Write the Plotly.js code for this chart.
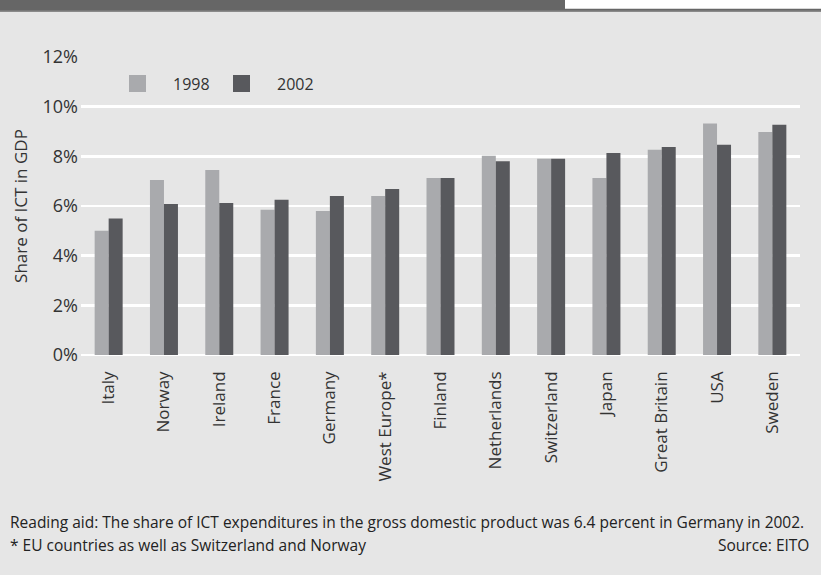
<!DOCTYPE html>
<html>
<head>
<meta charset="utf-8">
<script src="https://cdn.plot.ly/plotly-3.0.1.min.js"></script>
<style>html,body{margin:0;padding:0;background:#e6e6e6;}</style>
</head>
<body>
<div id="chart" style="width:821px;height:575px;"></div>
<script>
const countries = ["Italy","Norway","Ireland","France","Germany","West Europe*","Finland","Netherlands","Switzerland","Japan","Great Britain","USA","Sweden"];
const share1998 = [5.0, 7.05, 7.45, 5.85, 5.8, 6.4, 7.13, 8.02, 7.9, 7.13, 8.27, 9.32, 8.98];
const share2002 = [5.5, 6.08, 6.12, 6.25, 6.4, 6.68, 7.13, 7.8, 7.9, 8.13, 8.38, 8.47, 9.27];
const seriesNames = ["1998", "2002"];
const yTicks = [0, 2, 4, 6, 8, 10, 12];
const yTickText = ["0%", "2%", "4%", "6%", "8%", "10%", "12%"];

const FONT = "Open Sans, Noto Sans, sans-serif";
const C98 = "#a9aaad", C02 = "#58595d";

// pixel helpers for plot area (l=81, r=800, t=57, b=355)
const PL = 81, PR = 800, PT = 57, PB = 355;
const px = x => (x - PL) / (PR - PL);
const py = y => (PB - y) / (PB - PT);

const data = [
  {type: "bar", name: seriesNames[0], x: countries, y: share1998, marker: {color: C98}, showlegend: false, hoverinfo: "x+y"},
  {type: "bar", name: seriesNames[1], x: countries, y: share2002, marker: {color: C02}, showlegend: false, hoverinfo: "x+y"}
];

const layout = {
  width: 821, height: 575,
  paper_bgcolor: "#e6e6e6", plot_bgcolor: "#e6e6e6",
  margin: {l: PL, r: 821 - PR, t: PT, b: 575 - PB, pad: 0},
  barmode: "group", bargap: 0.494, bargroupgap: 0,
  font: {family: FONT, size: 17, color: "#333"},
  xaxis: {
    type: "category", tickangle: -90, showgrid: false, zeroline: false, showline: false,
    ticks: "", ticklabelstandoff: 12, tickfont: {family: FONT, size: 17, color: "#333"}
  },
  yaxis: {
    range: [0, 12], tickvals: yTicks, ticktext: yTickText,
    showgrid: true, gridcolor: "#ffffff", gridwidth: 2.5,
    zeroline: true, zerolinecolor: "#ffffff", zerolinewidth: 2.5,
    showline: false, ticks: "", ticklabelstandoff: 2,
    tickfont: {family: FONT, size: 18, color: "#333"},
    title: {text: "Share of ICT in GDP", font: {family: FONT, size: 17, color: "#333"}, standoff: 10}
  },
  shapes: [
    // top band
    {type: "rect", xref: "paper", yref: "paper", x0: px(0), x1: px(821), y0: py(0), y1: py(11), fillcolor: "#666666", line: {width: 0}, layer: "above"},
    {type: "rect", xref: "paper", yref: "paper", x0: px(0), x1: px(821), y0: py(10.5), y1: py(12), fillcolor: "#8a8a8a", line: {width: 0}, layer: "above"},
    {type: "rect", xref: "paper", yref: "paper", x0: px(565), x1: px(821), y0: py(0), y1: py(8.7), fillcolor: "#ffffff", line: {width: 0}, layer: "above"},
    // legend swatches
    {type: "rect", xref: "paper", yref: "paper", x0: px(129), x1: px(146), y0: py(75), y1: py(92), fillcolor: C98, line: {width: 0}},
    {type: "rect", xref: "paper", yref: "paper", x0: px(233), x1: px(250), y0: py(75), y1: py(92), fillcolor: C02, line: {width: 0}}
  ],
  annotations: [
    {xref: "paper", yref: "paper", x: px(171), y: py(83.5), xanchor: "left", yanchor: "middle", text: seriesNames[0], showarrow: false, font: {family: FONT, size: 16, color: "#333"}},
    {xref: "paper", yref: "paper", x: px(275), y: py(83.5), xanchor: "left", yanchor: "middle", text: seriesNames[1], showarrow: false, font: {family: FONT, size: 16, color: "#333"}},
    {xref: "paper", yref: "paper", x: px(8), y: py(522), xanchor: "left", yanchor: "middle", text: "Reading aid: The share of ICT expenditures in the gross domestic product was 6.4 percent in Germany in 2002.", showarrow: false, font: {family: FONT, size: 15.5, color: "#222"}},
    {xref: "paper", yref: "paper", x: px(8), y: py(545), xanchor: "left", yanchor: "middle", text: "* EU countries as well as Switzerland and Norway", showarrow: false, font: {family: FONT, size: 15.5, color: "#222"}},
    {xref: "paper", yref: "paper", x: px(811), y: py(545), xanchor: "right", yanchor: "middle", text: "Source: EITO", showarrow: false, font: {family: FONT, size: 15.5, color: "#222"}}
  ]
};

Plotly.newPlot("chart", data, layout, {displayModeBar: false, staticPlot: true});
</script>
</body>
</html>
